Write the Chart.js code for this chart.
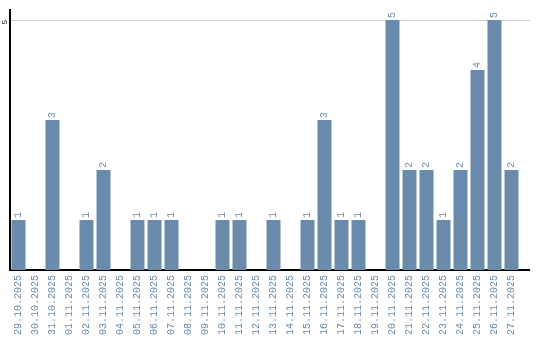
<!DOCTYPE html>
<html>
<head>
<meta charset="utf-8">
<script src="https://cdn.jsdelivr.net/npm/chart.js@4"></script>
<style>
  html, body { margin: 0; padding: 0; background: #fff; }
  #c { display: block; }
</style>
</head>
<body>
<canvas id="c" width="540" height="340"></canvas>
<script>
var dates = ["29.10.2025", "30.10.2025", "31.10.2025", "01.11.2025", "02.11.2025",
             "03.11.2025", "04.11.2025", "05.11.2025", "06.11.2025", "07.11.2025",
             "08.11.2025", "09.11.2025", "10.11.2025", "11.11.2025", "12.11.2025",
             "13.11.2025", "14.11.2025", "15.11.2025", "16.11.2025", "17.11.2025",
             "18.11.2025", "19.11.2025", "20.11.2025", "21.11.2025", "22.11.2025",
             "23.11.2025", "24.11.2025", "25.11.2025", "26.11.2025", "27.11.2025"];
var counts = [1, 0, 3, 0, 1, 2, 0, 1, 1, 1,
              0, 0, 1, 1, 0, 1, 0, 1, 3, 1,
              1, 0, 5, 2, 2, 1, 2, 4, 5, 2];
var yTicks = [5];

var barColor = "#6a8bab";
var labelColor = "#6a8aaa";
var monoFont = "'Liberation Mono'";

// value labels above bars, y tick label, axis extensions
var extras = {
    id: 'extras',
    afterDatasetsDraw: function(chart) {
	var ctx = chart.ctx;
	var area = chart.chartArea;
	var y = chart.scales.y;
	ctx.save();
	// extend gridline and x axis past the last slot
	ctx.strokeStyle = "#cccccc";
	ctx.lineWidth = 1;
	ctx.beginPath();
	ctx.moveTo(area.right, y.getPixelForValue(5) + 0.5);
	ctx.lineTo(area.right + 10, y.getPixelForValue(5) + 0.5);
	ctx.stroke();
	ctx.strokeStyle = "#000";
	ctx.lineWidth = 2;
	ctx.beginPath();
	ctx.moveTo(area.right - 1, area.bottom);
	ctx.lineTo(area.right + 10, area.bottom);
	ctx.stroke();

	// y tick
	ctx.fillStyle = "#222";
	ctx.font = "8px " + monoFont;
	ctx.textAlign = "center";
	ctx.textBaseline = "middle";
	yTicks.forEach(function(v) {
	    ctx.save();
	    ctx.translate(5, y.getPixelForValue(v) + 2);
	    ctx.rotate(-Math.PI / 2);
	    ctx.fillText(String(v), 0, 0);
	    ctx.restore();
	});

	// bar labels
	ctx.fillStyle = labelColor;
	ctx.font = "10px " + monoFont;
	ctx.textAlign = "left";
	var meta = chart.getDatasetMeta(0);
	meta.data.forEach(function(bar, i) {
	    if (!counts[i]) return;
	    ctx.save();
	    ctx.translate(bar.x, bar.y - 2);
	    ctx.rotate(-Math.PI / 2);
	    ctx.fillText(String(counts[i]), 0, 0);
	    ctx.restore();
	});
	ctx.restore();
    }
};

var chart = new Chart(document.getElementById('c').getContext('2d'), {
    type: 'bar',
    data: {
	labels: dates,
	datasets: [{
	    data: counts,
	    backgroundColor: barColor,
	    borderWidth: 0,
	    barPercentage: 14 / 17,
	    categoryPercentage: 1
	}]
    },
    options: {
	responsive: false,
	animation: false,
	layout: { padding: { left: 0, right: 20, top: 10, bottom: 0 } },
	plugins: { legend: { display: false }, tooltip: { enabled: false } },
	scales: {
	    x: {
		offset: true,
		grid: { display: false, drawTicks: false },
		border: { color: "#000", width: 2 },
		ticks: {
		    autoSkip: false,
		    minRotation: 90,
		    maxRotation: 90,
		    padding: 5,
		    color: labelColor,
		    font: { family: monoFont, size: 10 }
		},
		afterFit: function(s) { s.height = 70; }
	    },
	    y: {
		min: 0,
		max: 5.2,
		afterBuildTicks: function(s) {
		    s.ticks = yTicks.map(function(v) { return { value: v }; });
		},
		grid: { color: "#cccccc", drawTicks: false },
		border: { color: "#000", width: 2 },
		ticks: { display: false },
		afterFit: function(s) { s.width = 10; }
	    }
	}
    },
    plugins: [extras]
});
</script>
</body>
</html>
